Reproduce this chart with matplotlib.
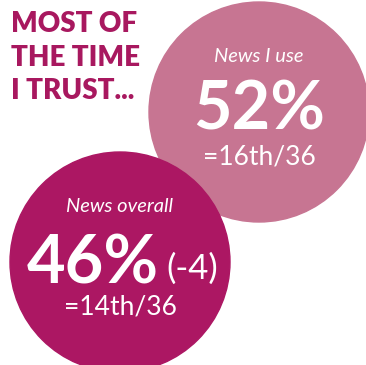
import matplotlib.pyplot as plt
from matplotlib.patches import Circle

# data
labels = ['News I use', 'News overall']
values = [52, 46]
changes = [None, -4]
ranks = ['=16th/36', '=14th/36']
colors = ['#C77592', '#AC1763']
title = 'MOST OF\nTHE TIME\nI TRUST...'

# layout (pixels)
centers = [(259, 112), (120, 262)]
radius = 110

plt.rcParams['font.family'] = ['Lato', 'DejaVu Sans']

fig = plt.figure(figsize=(3.66, 3.65), dpi=100)
ax = fig.add_axes([0, 0, 1, 1])
ax.set_xlim(0, 366)
ax.set_ylim(365, 0)
ax.set_aspect('equal')
ax.axis('off')

for i, lab in enumerate(labels):
    cx, cy = centers[i]
    ax.add_patch(Circle((cx, cy), radius, color=colors[i], zorder=1 + i))
    ax.text(cx, cy - 56, lab, ha='center', va='center', color='white',
            fontsize=14.5, style='italic', zorder=5)
    big = f'{values[i]}%'
    if changes[i] is None:
        ax.text(cx, cy - 2, big, ha='center', va='center', color='white',
                fontsize=48, fontweight='bold', zorder=5)
    else:
        ax.text(cx + 39, cy + 2, big, ha='right', va='center', color='white',
                fontsize=48, fontweight='bold', zorder=5)
        ax.text(cx + 46, cy + 7, f'({changes[i]})', ha='left', va='center',
                color='white', fontsize=25, zorder=5)
    ax.text(cx, cy + 45, ranks[i], ha='center', va='center', color='white',
            fontsize=19, zorder=5)

ax.text(11, 11, title, ha='left', va='top', color='#A8185F', fontsize=20,
        fontweight='heavy', linespacing=1.36, zorder=6)

fig.savefig('out.png', dpi=100)
